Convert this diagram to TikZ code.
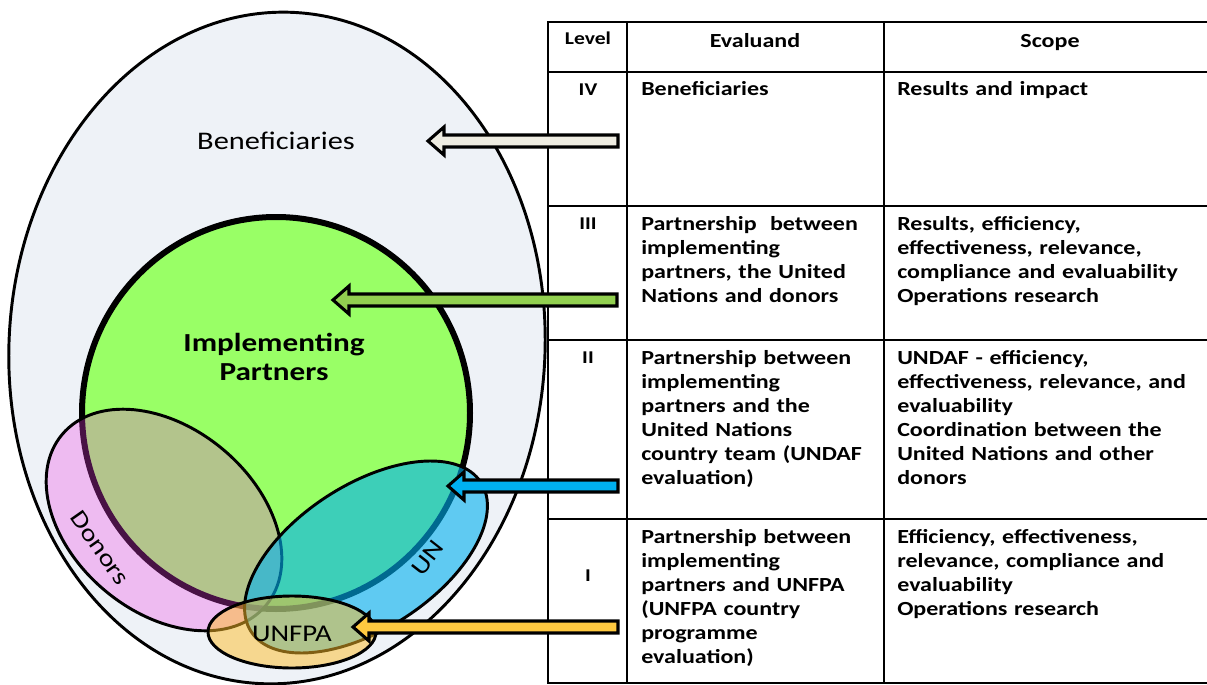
\documentclass[tikz,border=0pt]{standalone}
\usepackage{fontspec}
\setmainfont{Carlito}[FakeStretch=1.2]
\usetikzlibrary{calc}

\definecolor{benFill}{HTML}{EEF2F7}
\definecolor{ipFill}{HTML}{99FF66}
\definecolor{donorFill}{HTML}{F03CE6}
\definecolor{unFill}{HTML}{00B0F0}
\definecolor{unfpaFill}{HTML}{FFBE28}
\definecolor{benArrow}{HTML}{EEECE1}
\definecolor{ipArrow}{HTML}{92D050}
\definecolor{unArrow}{HTML}{00B0F0}
\definecolor{unfpaArrow}{HTML}{FFC940}

\begin{document}
\begin{tikzpicture}[x=0.75pt,y=-0.75pt,
    outline/.style={draw=black, line width=2.2pt},
    tableline/.style={draw=black, line width=1.9pt},
    blockarrow/.style={draw=black, line width=2.3pt, line join=miter},
    cell/.style={anchor=base west, inner sep=0pt, align=left, font=\bfseries\fontsize{15}{18}\selectfont},
    lvl/.style={anchor=base, inner sep=0pt, font=\bfseries\fontsize{13.5}{15}\selectfont},
    head/.style={anchor=base, inner sep=0pt, font=\bfseries\fontsize{15}{18}\selectfont}]
    \useasboundingbox (0,0) rectangle (1207,685);

    % the nested groups
    \draw[outline, fill=benFill, rotate around={-3:(277,348)}] (277,348) ellipse [x radius=268, y radius=336];
    \node (benLabel) at (276,141) {\fontsize{19}{22}\selectfont Beneficiaries};
    \draw[draw=black, line width=4.5pt, fill=ipFill] (276,413) ellipse [x radius=194, y radius=196];
    \node[align=center, font=\bfseries\fontsize{19.5}{22}\selectfont] (ipLabel) at (274,357) {Implementing\\Partners};

    \draw[outline, fill=donorFill, fill opacity=0.3, rotate around={-40:(164,520)}] (164,520) ellipse [x radius=133, y radius=92];
    \draw[outline, fill=unFill, fill opacity=0.6, rotate around={33:(366,557)}] (366,557) ellipse [x radius=137, y radius=72];
    \draw[outline, fill=unfpaFill, fill opacity=0.5] (292,632) ellipse [x radius=84, y radius=36];

    \node[rotate=-55, font=\fontsize{18}{20}\selectfont] (donorLabel) at (100,548) {Donors};
    \node[rotate=52, font=\fontsize{18}{20}\selectfont] (unLabel) at (428,558) {UN};
    \node[font=\fontsize{18}{20}\selectfont] (unfpaLabel) at (292,634) {UNFPA};

    % the table
    \draw[tableline] (548,22) rectangle (1212,683);
    \draw[tableline] (627,22) -- (627,683) (884,22) -- (884,683);
    \foreach \y in {72,206,340,519}
        \draw[tableline] (548,\y) -- (1212,\y);

    \node[lvl] (levelHead) at (588,45) {Level};
    \node[head] (evalHead) at (755,48) {Evaluand};
    \node[head] (scopeHead) at (1050,48) {Scope};

    \node[lvl] (lvlIV) at (588,95) {IV};
    \node[cell, text width=185pt] (evalIV) at (641,96) {Beneficiaries};
    \node[cell, text width=235pt] (scopeIV) at (897,96) {Results and impact};

    \node[lvl] (lvlIII) at (588,229) {III};
    \node[cell, text width=185pt] (evalIII) at (641,230) {Partnership~ between\\implementing\\partners, the United\\Nations and donors};
    \node[cell, text width=235pt] (scopeIII) at (897,230) {Results, efficiency,\\effectiveness, relevance,\\compliance and evaluability\\Operations research};

    \node[lvl] (lvlII) at (588,363) {II};
    \node[cell, text width=185pt] (evalII) at (641,364) {Partnership between\\implementing\\partners and the\\United Nations\\country team (UNDAF\\evaluation)};
    \node[cell, text width=235pt] (scopeII) at (897,364) {UNDAF - efficiency,\\effectiveness, relevance, and\\evaluability\\Coordination between the\\United Nations and other\\donors};

    \node[lvl] (lvlI) at (588,581) {I};
    \node[cell, text width=185pt] (evalI) at (641,543) {Partnership between\\implementing\\partners and UNFPA\\(UNFPA country\\programme\\evaluation)};
    \node[cell, text width=235pt] (scopeI) at (897,543) {Efficiency, effectiveness,\\relevance, compliance and\\evaluability\\Operations research};

    % arrows from the levels
    \coordinate (ben-tip) at (428,141);   \coordinate (ben-tail) at (618,141);
    \coordinate (ip-tip) at (333,300);    \coordinate (ip-tail) at (617,300);
    \coordinate (un-tip) at (448,486);    \coordinate (un-tail) at (618,486);
    \coordinate (unfpa-tip) at (353,627); \coordinate (unfpa-tail) at (618,627);
    \foreach \n/\c in {ben/benArrow,ip/ipArrow,un/unArrow,unfpa/unfpaArrow}
        \draw[blockarrow, fill=\c] (\n-tip) -- ++(16,-14) -- ++(0,8) -- ($(\n-tail)+(0,-6)$)
            -- ($(\n-tail)+(0,6)$) -- ($(\n-tip)+(16,6)$) -- ++(0,8) -- cycle;
\end{tikzpicture}
\end{document}
